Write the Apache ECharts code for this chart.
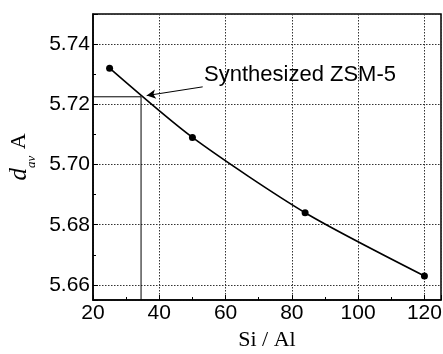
<!DOCTYPE html>
<html>
<head>
<meta charset="utf-8">
<script src="https://cdn.jsdelivr.net/npm/echarts@6/dist/echarts.min.js"></script>
<style>
  html, body { margin: 0; padding: 0; background: #fff; }
  #chart { width: 443px; height: 354px; }
</style>
</head>
<body>
<div id="chart"></div>
<script>
// measured points (Si/Al ratio vs mean d-spacing)
const siAl = [25, 50, 84, 120];
const dav = [5.732, 5.709, 5.684, 5.663];

// guide lines for the synthesized sample
const refX = [20, 34.5, 34.5];
const refY = [5.7225, 5.7225, 5.655];

const noteText = 'Synthesized ZSM-5';
const noteAt = [53.5, 5.7298];
const arrowFrom = [53.1, 5.7258];
const arrowTo = [36.2, 5.7229];

const chart = echarts.init(document.getElementById('chart'));

const gridDots = { show: true, lineStyle: { color: '#333', width: 1, type: [1.5, 1.5] } };

chart.setOption({
    animation: false,
    grid: {
        left: 93, right: 2, top: 14, bottom: 54,
        containLabel: false,
        outerBoundsMode: 'none',
        show: true, borderColor: '#000', borderWidth: 1.5, backgroundColor: 'transparent'
    },
    xAxis: {
        type: 'value',
        min: 20, max: 125, interval: 20,
        name: 'Si / Al',
        nameLocation: 'middle',
        nameGap: 28,
        nameTextStyle: { fontFamily: 'Liberation Serif', fontSize: 22, color: '#000' },
        axisLine: { lineStyle: { color: '#000', width: 1.5 } },
        axisTick: { inside: true, length: 5, lineStyle: { color: '#000' } },
        minorTick: { show: true, splitNumber: 2, length: 3, lineStyle: { color: '#000' } },
        axisLabel: {
            color: '#000', fontFamily: 'Liberation Sans', fontSize: 21, margin: 3,
            showMaxLabel: false
        },
        splitLine: gridDots
    },
    yAxis: {
        type: 'value',
        min: 5.655, max: 5.75,
        splitNumber: 5,
        name: '{d|d}{av|av}{a| A}',
        nameLocation: 'middle',
        nameRotate: 90,
        nameGap: 55,
        nameTextStyle: {
            color: '#000',
            rich: {
                d: { fontFamily: 'Liberation Serif', fontStyle: 'italic', fontSize: 25, color: '#000', lineHeight: 37 },
                av: { fontFamily: 'Liberation Serif', fontStyle: 'italic', fontSize: 13, color: '#000', verticalAlign: 'top', lineHeight: 13, padding: [24, 1, 0, 0] },
                a: { fontFamily: 'Liberation Serif', fontSize: 22, color: '#000', lineHeight: 37 }
            }
        },
        axisLine: { lineStyle: { color: '#000', width: 1.5 } },
        axisTick: { inside: true, length: 5, lineStyle: { color: '#000' } },
        minorTick: { show: true, splitNumber: 2, length: 3, lineStyle: { color: '#000' } },
        axisLabel: {
            color: '#000', fontFamily: 'Liberation Sans', fontSize: 21, margin: 3,
            showMinLabel: false, showMaxLabel: false,
            formatter: v => v.toFixed(2)
        },
        splitLine: gridDots
    },
    series: [
        {
            type: 'line',
            data: refX.map((x, i) => [x, refY[i]]),
            symbol: 'none',
            lineStyle: { color: '#000', width: 1 },
            silent: true,
            z: 2
        },
        {
            type: 'line',
            data: siAl.map((x, i) => [x, dav[i]]),
            smooth: 0.25,
            symbol: 'circle',
            symbolSize: 7,
            itemStyle: { color: '#000' },
            lineStyle: { color: '#000', width: 1.6 },
            z: 3,
            markLine: {
                silent: true,
                symbol: ['none', 'arrow'],
                symbolSize: [7, 9],
                lineStyle: { color: '#000', width: 1, type: 'solid' },
                label: { show: false },
                data: [[{ coord: arrowFrom }, { coord: arrowTo }]]
            },
            markPoint: {
                silent: true,
                symbol: 'circle',
                symbolSize: 0,
                label: {
                    show: true,
                    position: 'right',
                    distance: 0,
                    formatter: noteText,
                    fontFamily: 'Liberation Sans',
                    fontSize: 22,
                    color: '#000'
                },
                data: [{ coord: noteAt }]
            }
        }
    ]
});
</script>
</body>
</html>
